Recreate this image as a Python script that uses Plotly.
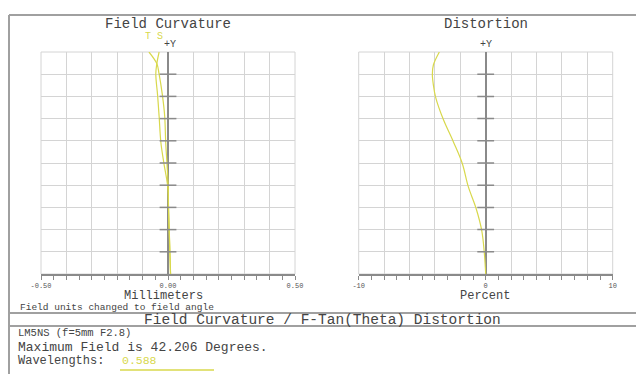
import plotly.graph_objects as go
import numpy as np

# Field curvature data (field angle in degrees, focus shift in mm)
fc_field = [0, 4, 8, 12.5, 16.6, 21, 25, 30, 34, 38, 40, 42.206]
tan_mm = [0.010, 0.008, 0.005, 0.002, 0.001, -0.004, -0.009, -0.013, -0.022, -0.035, -0.044, -0.075]
sag_mm = [0.010, 0.007, 0.005, 0.002, -0.001, -0.016, -0.028, -0.035, -0.041, -0.048, -0.044, -0.035]

# Distortion data (field angle in degrees, percent)
dist_field = [0, 4.05, 8.23, 12.49, 16.6, 21.05, 25.15, 29.41, 33.59, 35.93, 37.97, 39.73, 42.206]
dist_pct = [0, -0.11, -0.31, -0.76, -1.37, -1.85, -2.55, -3.34, -3.94, -4.12, -4.2, -4.12, -3.65]

max_field = 42.206
fc_ticks = ["-0.50", "0.00", "0.50"]
dist_ticks = ["-10", "0", "10"]

W, H = 636, 374
FONT = "Liberation Mono"
yellow = "#d8d84c"
grid_color = "#d4d4d4"
axis_color = "#8a8a8a"
frame_color = "#a0a0a0"
text_color = "#444444"


def px(x):
    return x / W


def py(y):
    return 1 - y / H


fig = go.Figure()

# curves
fig.add_trace(go.Scatter(x=tan_mm, y=fc_field, mode="lines", line=dict(color=yellow, width=1.2, shape="spline"),
                         xaxis="x", yaxis="y", hoverinfo="skip"))
fig.add_trace(go.Scatter(x=sag_mm, y=fc_field, mode="lines", line=dict(color=yellow, width=1.2, shape="spline"),
                         xaxis="x", yaxis="y", hoverinfo="skip"))
fig.add_trace(go.Scatter(x=dist_pct, y=dist_field, mode="lines", line=dict(color=yellow, width=1.2, shape="spline"),
                         xaxis="x2", yaxis="y2", hoverinfo="skip"))

# short tick marks on the centre (+Y) axis
ygrid = np.linspace(0, max_field, 11)
for xa, ya in [("x", "y"), ("x2", "y2")]:
    fig.add_trace(go.Scatter(x=[0] * 9, y=ygrid[1:-1], mode="markers", xaxis=xa, yaxis=ya, hoverinfo="skip",
                             marker=dict(symbol="line-ew", size=12, line=dict(width=1.5, color=axis_color))))


def x_axis(dom, lo, hi, labels):
    major = np.round(np.linspace(lo, hi, 11), 4)
    minor = np.round(np.linspace(lo, hi, 21), 4)
    text = [""] * 11
    text[0], text[5], text[10] = labels
    return dict(domain=dom, range=[lo, hi], tickmode="array", tickvals=major, ticktext=text,
                showgrid=True, gridcolor=grid_color, gridwidth=1,
                ticks="outside", ticklen=4, tickcolor=axis_color, tickwidth=1,
                minor=dict(tickvals=minor, ticks="outside", ticklen=4, tickcolor=axis_color, showgrid=False),
                showline=True, linecolor=axis_color, linewidth=2,
                zeroline=True, zerolinecolor=axis_color, zerolinewidth=2, automargin=False,
                tickfont=dict(family=FONT, size=7, color="#555"), fixedrange=True)


def y_axis(anchor):
    return dict(domain=[py(274), py(52)], range=[0, max_field], anchor=anchor, tickmode="array",
                tickvals=ygrid, showticklabels=False, showgrid=True, gridcolor=grid_color, automargin=False,
                ticks="", zeroline=False, showline=False, fixedrange=True)


fig.update_layout(
    width=W, height=H, autosize=False,
    margin=dict(l=0, r=0, t=0, b=0, pad=0, autoexpand=False),
    paper_bgcolor="white", plot_bgcolor="white",
    showlegend=False,
    xaxis=x_axis([px(41), px(295)], -0.5, 0.5, fc_ticks) | dict(anchor="y"),
    yaxis=y_axis("x"),
    xaxis2=x_axis([px(358.7), px(612.7)], -10, 10, dist_ticks) | dict(anchor="y2"),
    yaxis2=y_axis("x2"),
)

# plot boxes
for xr, yr in [("x domain", "y domain"), ("x2 domain", "y2 domain")]:
    fig.add_shape(type="rect", xref=xr, yref=yr, x0=0, x1=1, y0=0, y1=1,
                  line=dict(color=grid_color, width=1), layer="below")

# outer frame and separators
frame = [((9, 15), (636, 15)), ((9, 15), (9, 374)), ((9, 313), (636, 313)), ((9, 326), (636, 326))]
for (xa, ya), (xb, yb) in frame:
    fig.add_shape(type="line", xref="paper", yref="paper", x0=px(xa), y0=py(ya), x1=px(xb), y1=py(yb),
                  line=dict(color=frame_color, width=2))

# yellow underline under wavelength
fig.add_shape(type="line", xref="paper", yref="paper", x0=px(120), y0=py(370), x1=px(214), y1=py(370),
              line=dict(color=yellow, width=1.5))


def label(x, y, text, size=13, color=text_color, anchor="center"):
    fig.add_annotation(x=px(x), y=py(y), xref="paper", yref="paper", text=text, showarrow=False,
                       xanchor=anchor, yanchor="middle", font=dict(family=FONT, size=size, color=color))


label(168, 23.5, "Field Curvature", 14)
label(486, 23.5, "Distortion", 14)
label(148, 36.5, "T", 10, yellow)
label(160, 36.5, "S", 10, yellow)
label(170, 44, "+Y", 10)
label(486, 44, "+Y", 10)
label(163, 295.5, "Millimeters", 12)
label(485, 295.5, "Percent", 12)
label(18, 307.5, "Field units changed to field angle", 9.5, anchor="left")
label(322, 319.5, "Field Curvature / F-Tan(Theta) Distortion", 14.5)
label(16, 333, "LM5NS (f=5mm F2.8)", 10.5, anchor="left")
label(16, 347, "Maximum Field is 42.206 Degrees.", 13, anchor="left")
label(16, 360.5, "Wavelengths:", 12, anchor="left")
label(120, 360.5, "0.588", 11.5, yellow, anchor="left")

fig.write_html("out.html", config={"displayModeBar": False},
               post_script="document.body.style.margin='0px';")
